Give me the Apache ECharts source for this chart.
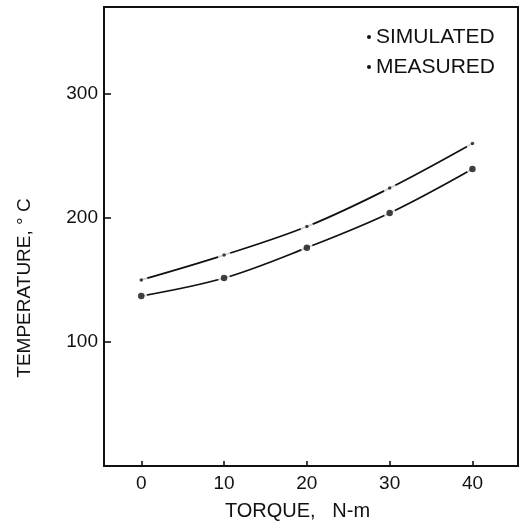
<!DOCTYPE html>
<html>
<head>
<meta charset="utf-8">
<script src="https://cdn.jsdelivr.net/npm/echarts@6/dist/echarts.min.js"></script>
<style>
html,body{margin:0;padding:0;background:#fff;}
#chart{width:523px;height:527px;}
</style>
</head>
<body>
<div id="chart"></div>
<script>
// Data
var torque = [0, 10, 20, 30, 40];
var simulated = [150, 170, 193, 224, 260];
var measured = [137, 151.5, 176, 204, 239.5];
var xTickValues = [0, 10, 20, 30, 40];
var yTickValues = [100, 200, 300];

function pairs(xs, ys) { return xs.map(function (x, i) { return [x, ys[i]]; }); }

var FONT = '"Liberation Sans", Arial, sans-serif';
var INK = '#111';

var chart = echarts.init(document.getElementById('chart'), null, {renderer: 'canvas'});
chart.setOption({
  animation: false,
  backgroundColor: '#fff',
  grid: {
    left: 104, right: 5, top: 7, bottom: 61,
    show: true, borderColor: INK, borderWidth: 2, backgroundColor: 'transparent'
  },
  legend: {
    orient: 'vertical',
    left: 362, top: 21,
    icon: 'circle',
    itemWidth: 4, itemHeight: 4,
    itemGap: 8,
    data: ['SIMULATED', 'MEASURED'],
    textStyle: {fontFamily: FONT, fontSize: 21, color: INK, lineHeight: 22},
    selectedMode: false
  },
  xAxis: {
    type: 'value', min: -4.5, max: 45.5,
    name: 'TORQUE,   N-m',
    nameLocation: 'middle', nameGap: 35,
    nameTextStyle: {fontFamily: FONT, fontSize: 20, color: INK, padding: [0, 27, 0, 0]},
    axisLine: {show: false, onZero: false},
    splitLine: {show: false},
    axisTick: {show: true, inside: true, length: 5, customValues: xTickValues, lineStyle: {color: INK, width: 1.6}},
    axisLabel: {customValues: xTickValues, fontFamily: FONT, fontSize: 19, color: INK, margin: 8}
  },
  yAxis: {
    type: 'value', min: 0, max: 370,
    name: 'TEMPERATURE, ° C',
    nameLocation: 'middle', nameGap: 70,
    nameTextStyle: {fontFamily: FONT, fontSize: 19, color: INK, padding: [0, 103, 0, 0]},
    axisLine: {show: false, onZero: false},
    splitLine: {show: false},
    axisTick: {show: true, inside: true, length: 7, customValues: yTickValues, lineStyle: {color: INK, width: 1.6}},
    axisLabel: {customValues: yTickValues, fontFamily: FONT, fontSize: 19, color: INK, margin: 6}
  },
  series: [
    {name: 'SIMULATED', type: 'line', smooth: 0.35, data: pairs(torque, simulated),
     showSymbol: false, symbol: 'circle', symbolSize: 3, itemStyle: {color: INK},
     lineStyle: {color: INK, width: 1.7}, z: 2},
    {name: 'MEASURED', type: 'line', smooth: 0.35, data: pairs(torque, measured),
     showSymbol: false, symbol: 'circle', symbolSize: 6, itemStyle: {color: INK},
     lineStyle: {color: INK, width: 1.7}, z: 2},
    {type: 'scatter', data: pairs(torque, simulated), symbolSize: 13, itemStyle: {color: '#fff'}, silent: true, z: 3},
    {type: 'scatter', data: pairs(torque, measured), symbolSize: 12, itemStyle: {color: '#fff'}, silent: true, z: 3},
    {type: 'scatter', data: pairs(torque, simulated), symbolSize: 3.5, itemStyle: {color: INK}, silent: true, z: 4},
    {type: 'scatter', data: pairs(torque, measured), symbolSize: 6.5, itemStyle: {color: INK}, silent: true, z: 4}
  ]
});
</script>
</body>
</html>
